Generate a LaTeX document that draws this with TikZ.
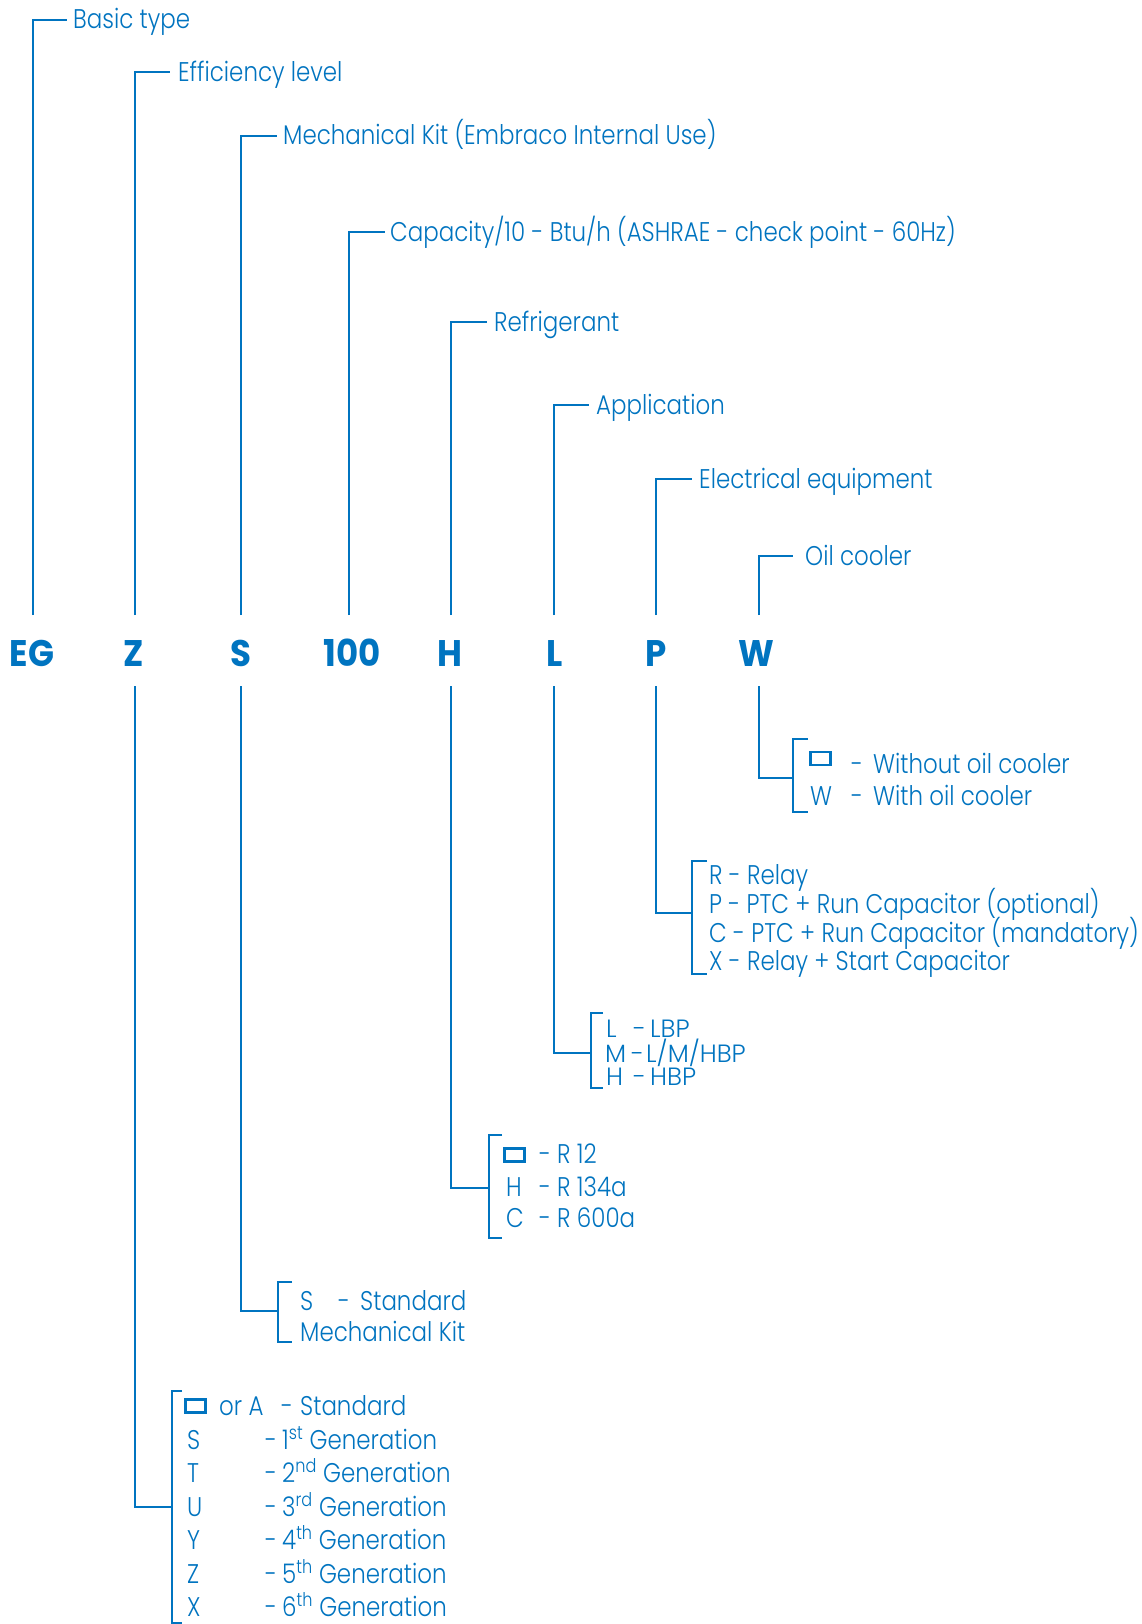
\documentclass[tikz,border=0pt]{standalone}
\usepackage{fontspec}
\IfFontExistsTF{Poppins Light}
  {\setmainfont{Poppins Light}[FakeStretch=0.85]
   \newfontfamily\lfont{Poppins Light}[FakeStretch=1.0]}
  {\setmainfont{Poppins}[FakeStretch=0.85]
   \newfontfamily\lfont{Poppins}[FakeStretch=1.0]}
\newfontfamily\codefont{Poppins}[FakeStretch=0.92]
\definecolor{eb}{RGB}{0,116,192}
\tikzset{
  ln/.style={draw=eb, line width=1.3pt},
  lbl/.style={anchor=base west, inner sep=0pt, text=eb, font=\fontsize{27}{32}\selectfont},
  lsm/.style={anchor=base west, inner sep=0pt, text=eb, font=\lfont\fontsize{25}{28}\selectfont},
  code/.style={anchor=base, inner sep=0pt, text=eb, font=\codefont\bfseries\fontsize{37}{40}\selectfont},
  glyph/.style={draw=eb, line width=2.6pt, minimum width=20pt, minimum height=13pt, inner sep=0pt}
}
\begin{document}
\begin{tikzpicture}[x=1pt,y=-1pt]
\useasboundingbox[fill=white] (0,0) rectangle (1141,1624);
% code letters
\node[code] (cEG) at (32,666) {EG};
\node[code] (cZ) at (134,666) {Z};
\node[code] (cS) at (241,666) {S};
\node[code] (c100) at (352,666) {100};
\node[code] (cH) at (450,666) {H};
\node[code] (cL) at (555,666) {L};
\node[code] (cP) at (656,666) {P};
\node[code] (cW) at (756,666) {W};
% top labels
\node[lbl] (tEG) at (73,29) {Basic type};
\node[lbl] (tZ) at (178,81.5) {Efficiency level};
\node[lbl] (tS) at (283,145) {Mechanical Kit (Embraco Internal Use)};
\node[lbl] (t100) at (390,241) {Capacity/10 - Btu/h (ASHRAE - check point - 60Hz)};
\node[lbl] (tH) at (494,331) {Refrigerant};
\node[lbl] (tL) at (596,414) {Application};
\node[lbl] (tP) at (699,488) {Electrical equipment};
\node[lbl] (tW) at (805,565) {Oil cooler};
% top connectors
\coordinate (uEG) at (33,615);  \coordinate (kEG) at (67,20);
\coordinate (uZ) at (135,615);  \coordinate (kZ) at (170,72);
\coordinate (uS) at (241,615);  \coordinate (kS) at (277,136);
\coordinate (u100) at (349,615); \coordinate (k100) at (385,232);
\coordinate (uH) at (451,615);  \coordinate (kH) at (487,322);
\coordinate (uL) at (554,615);  \coordinate (kL) at (589,405);
\coordinate (uP) at (656,615);  \coordinate (kP) at (692,479);
\coordinate (uW) at (759,615);  \coordinate (kW) at (793,556);
\foreach \n in {EG,Z,S,100,H,L,P,W} {\draw[ln] (u\n) |- (k\n);}
% bottom connectors
\coordinate (dZ) at (135,686); \coordinate (jZ) at (172,1507);
\coordinate (dS) at (241,686); \coordinate (jS) at (278,1311);
\coordinate (dH) at (451,686); \coordinate (jH) at (489,1188);
\coordinate (dL) at (554,686); \coordinate (jL) at (591,1053);
\coordinate (dP) at (656,686); \coordinate (jP) at (692,913);
\coordinate (dW) at (759,686); \coordinate (jW) at (793,778);
\foreach \n in {Z,S,H,L,P,W} {\draw[ln] (d\n) |- (j\n);}
% brackets
\coordinate (bWt) at (808,739); \coordinate (bWb) at (808,812);
\coordinate (bPt) at (707,861); \coordinate (bPb) at (707,974);
\coordinate (bLt) at (603,1013); \coordinate (bLb) at (603,1088);
\coordinate (bHt) at (502,1135); \coordinate (bHb) at (502,1238);
\coordinate (bSt) at (292,1282); \coordinate (bSb) at (292,1342);
\coordinate (bZt) at (182,1391); \coordinate (bZb) at (182,1623);
\draw[ln] (bWt) -- (793,739) |- (bWb);
\draw[ln] (bPt) -- (692,861) |- (bPb);
\draw[ln] (bLt) -- (591,1013) |- (bLb);
\draw[ln] (bHt) -- (489,1135) |- (bHb);
\draw[ln] (bSt) -- (278,1282) |- (bSb);
\draw[ln] (bZt) -- (172,1391) |- (bZb);
% W options
\node[glyph] (gW) at (820.5,758.5) {};
\node[lbl] (wd1) at (851,773) {-};
\node[lbl] (wt1) at (873,773) {Without oil cooler};
\node[lbl] (wl2) at (810,805) {W};
\node[lbl] (wd2) at (851,805) {-};
\node[lbl] (wt2) at (873,805) {With oil cooler};
% P options
\node[lbl] (p1) at (709,884) {R - Relay};
\node[lbl] (p2) at (709,913) {P - PTC + Run Capacitor (optional)};
\node[lbl] (p3) at (709,942) {C - PTC + Run Capacitor (mandatory)};
\node[lbl] (p4) at (709,970) {X - Relay + Start Capacitor};
% L options
\node[lsm] (l1a) at (606,1037) {L};
\node[lsm] (l1b) at (633,1037) {-};
\node[lsm] (l1c) at (650,1037) {LBP};
\node[lsm] (l2a) at (605,1062) {M};
\node[lsm] (l2b) at (631,1062) {-};
\node[lsm] (l2c) at (646,1062) {L/M/HBP};
\node[lsm] (l3a) at (606,1085) {H};
\node[lsm] (l3b) at (633,1085) {-};
\node[lsm] (l3c) at (650,1085) {HBP};
% H options
\node[glyph] (gH) at (514.5,1155) {};
\node[lbl] (h1b) at (539,1163) {-};
\node[lbl] (h1c) at (557,1163) {R 12};
\node[lbl] (h2a) at (506,1196) {H};
\node[lbl] (h2b) at (539,1196) {-};
\node[lbl] (h2c) at (557,1196) {R 134a};
\node[lbl] (h3a) at (506,1227) {C};
\node[lbl] (h3b) at (539,1227) {-};
\node[lbl] (h3c) at (557,1227) {R 600a};
% S options
\node[lbl] (s1a) at (300,1310) {S};
\node[lbl] (s1b) at (338,1310) {-};
\node[lbl] (s1c) at (360,1310) {Standard};
\node[lbl] (s2) at (300,1341) {Mechanical Kit};
% Z options
\node[glyph] (gZ) at (195.5,1406) {};
\node[lbl] (z0a) at (219,1415) {or A};
\node[lbl] (z0b) at (281,1415) {-};
\node[lbl] (z0c) at (300,1415) {Standard};
\node[lbl] (z1a) at (187,1449) {S};
\node[lbl] (z1b) at (265,1449) {-};
\node[lbl] (z1c) at (282,1449) {1\textsuperscript{st} Generation};
\node[lbl] (z2a) at (187,1482) {T};
\node[lbl] (z2b) at (265,1482) {-};
\node[lbl] (z2c) at (282,1482) {2\textsuperscript{nd} Generation};
\node[lbl] (z3a) at (187,1516) {U};
\node[lbl] (z3b) at (265,1516) {-};
\node[lbl] (z3c) at (282,1516) {3\textsuperscript{rd} Generation};
\node[lbl] (z4a) at (187,1549) {Y};
\node[lbl] (z4b) at (265,1549) {-};
\node[lbl] (z4c) at (282,1549) {4\textsuperscript{th} Generation};
\node[lbl] (z5a) at (187,1583) {Z};
\node[lbl] (z5b) at (265,1583) {-};
\node[lbl] (z5c) at (282,1583) {5\textsuperscript{th} Generation};
\node[lbl] (z6a) at (187,1616) {X};
\node[lbl] (z6b) at (265,1616) {-};
\node[lbl] (z6c) at (282,1616) {6\textsuperscript{th} Generation};
\end{tikzpicture}
\end{document}
